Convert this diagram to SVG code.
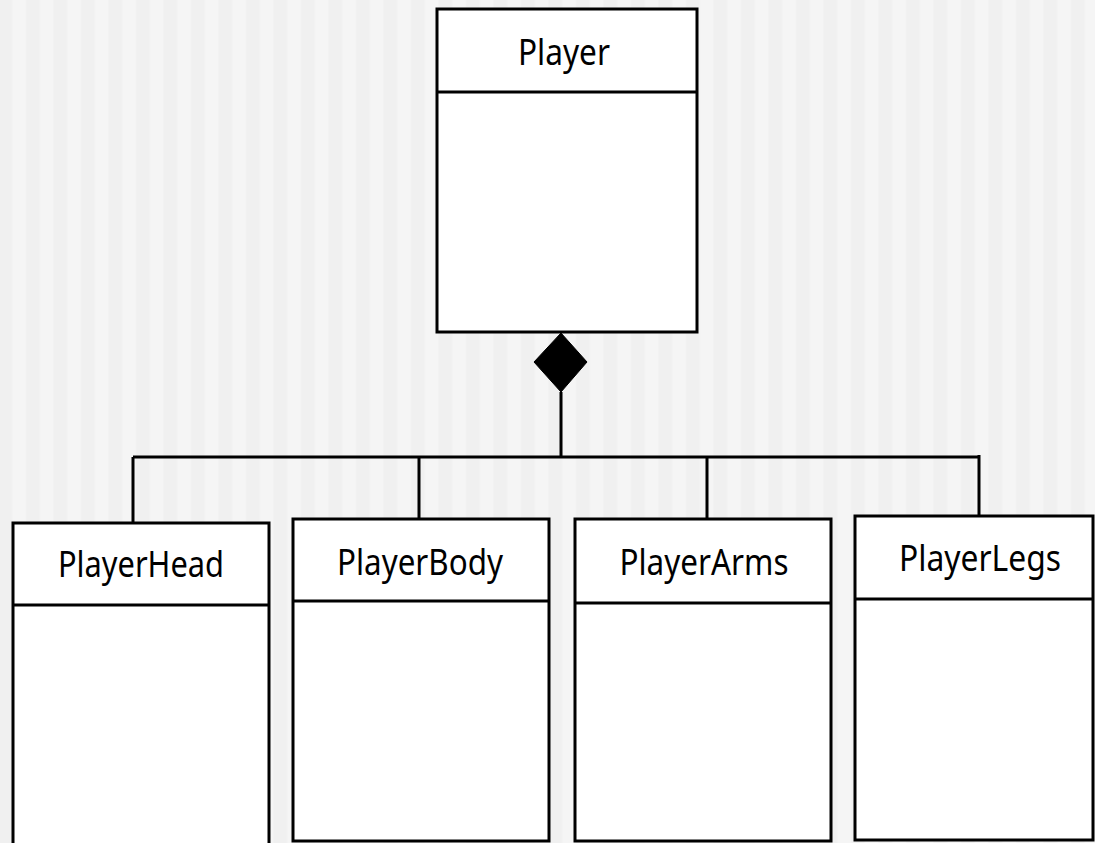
<svg xmlns="http://www.w3.org/2000/svg" width="1095" height="843" viewBox="0 0 1095 843">
  <defs>
    <pattern id="stripes" x="0" y="0" width="27.5" height="843" patternUnits="userSpaceOnUse">
      <rect x="0" y="0" width="27.5" height="843" fill="#f0f0f0"/>
      <rect x="12" y="0" width="14" height="843" fill="#f5f5f5"/>
    </pattern>
    <style>
      .box { fill: #ffffff; stroke: #000000; stroke-width: 3; }
      .div { stroke: #000000; stroke-width: 3; }
      .lbl { font-family: "Noto Sans", "Open Sans", sans-serif; font-size: 36px; fill: #000000; text-anchor: middle; }
      .wire { fill: none; stroke: #000000; stroke-width: 3; }
    </style>
  </defs>
  <rect x="0" y="0" width="1095" height="843" fill="url(#stripes)"/>

  <g id="connectors">
    <path class="wire" d="M561 392 V457 M133 457 H979 M133 457 V523 M419 457 V519 M707 457 V519 M979 455 V516"/>
    <polygon points="561,333 587,362 561,392 534,362" fill="#000000" stroke="#000000" stroke-width="1"/>
  </g>

  <g id="player">
    <rect class="box" x="437" y="9" width="260" height="323"/>
    <line class="div" x1="437" y1="92" x2="697" y2="92"/>
    <text class="lbl" x="564" y="65" textLength="92" lengthAdjust="spacingAndGlyphs">Player</text>
  </g>

  <g id="playerHead">
    <rect class="box" x="13" y="523" width="256" height="330"/>
    <line class="div" x1="13" y1="605" x2="269" y2="605"/>
    <text class="lbl" x="141" y="577" textLength="166" lengthAdjust="spacingAndGlyphs">PlayerHead</text>
  </g>

  <g id="playerBody">
    <rect class="box" x="293" y="519" width="256" height="322"/>
    <line class="div" x1="293" y1="601" x2="549" y2="601"/>
    <text class="lbl" x="420" y="575" textLength="166" lengthAdjust="spacingAndGlyphs">PlayerBody</text>
  </g>

  <g id="playerArms">
    <rect class="box" x="575" y="519" width="256" height="322"/>
    <line class="div" x1="575" y1="603" x2="831" y2="603"/>
    <text class="lbl" x="704" y="575" textLength="169" lengthAdjust="spacingAndGlyphs">PlayerArms</text>
  </g>

  <g id="playerLegs">
    <rect class="box" x="855" y="516" width="238" height="324"/>
    <line class="div" x1="855" y1="599" x2="1093" y2="599"/>
    <text class="lbl" x="980" y="571" textLength="162" lengthAdjust="spacingAndGlyphs">PlayerLegs</text>
  </g>
</svg>
